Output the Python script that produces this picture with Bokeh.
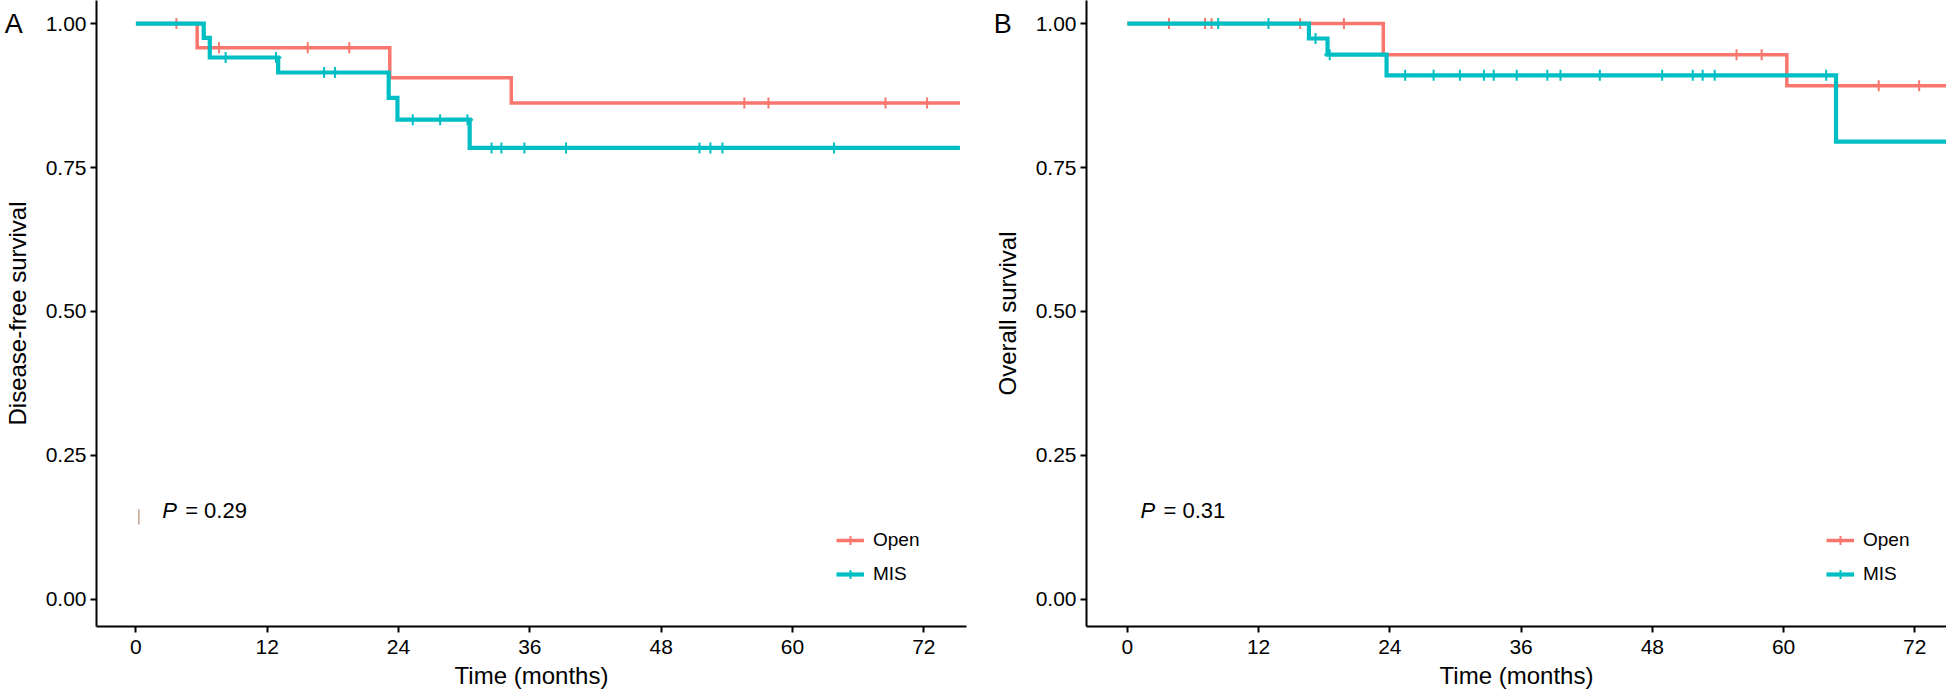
import numpy as np
from bokeh.plotting import figure
from bokeh.layouts import row
from bokeh.models import Range1d, FixedTicker, NumeralTickFormatter, Legend, LegendItem, Label
from bokeh.embed import file_html
from bokeh.resources import INLINE

FONT = "Liberation Sans"
RED = "#F8766D"
TEAL = "#00BFC4"

# ---------------- data ----------------
x_ticks = [0, 12, 24, 36, 48, 60, 72]
y_ticks = [0.0, 0.25, 0.5, 0.75, 1.0]
groups = ["Open", "MIS"]

# Panel A: disease-free survival
dfs_open_time = [0, 5.6, 23.2, 34.3, 75.3]
dfs_open_surv = [1.0, 0.958, 0.906, 0.862, 0.862]
dfs_open_censor = [3.7, 7.6, 15.7, 19.5, 55.6, 57.8, 68.5, 72.3]
dfs_mis_time = [0, 6.2, 6.75, 13.0, 23.1, 23.9, 30.5, 75.3]
dfs_mis_surv = [1.0, 0.975, 0.941, 0.915, 0.871, 0.833, 0.784, 0.784]
dfs_mis_censor = [8.2, 12.8, 17.2, 18.2, 25.3, 27.8, 30.3, 32.5, 33.4, 35.5,
                  39.3, 51.5, 52.5, 53.6, 63.8]
dfs_p_text = "= 0.29"

# Panel B: overall survival
os_open_time = [0, 23.4, 60.3, 75.5]
os_open_surv = [1.0, 0.946, 0.892, 0.892]
os_open_censor = [3.8, 7.1, 7.7, 15.8, 19.8, 55.7, 58.0, 68.7, 72.4]
os_mis_time = [0, 16.6, 18.3, 23.7, 64.8, 75.5]
os_mis_surv = [1.0, 0.974, 0.946, 0.910, 0.795, 0.795]
os_mis_censor = [8.3, 12.9, 17.2, 18.5, 25.4, 28.0, 30.4, 32.6, 33.5, 35.6,
                 38.4, 39.6, 43.2, 48.9, 51.7, 52.6, 53.7, 63.9]
os_p_text = "= 0.31"

# small stray mark seen in panel A near the p-value
artifact_x = [0.27]
artifact_y0 = [0.130]
artifact_y1 = [0.156]


def surv_at(times, survs, pts):
    t = np.asarray(times)
    s = np.asarray(survs)
    idx = np.searchsorted(t, np.asarray(pts), side="right") - 1
    return list(s[idx])


def make_panel(series, ylabel, panel_letter, p_text, p_x, x_start, x_end,
               border_left, border_right, frame_width, letter_x):
    p = figure(frame_width=frame_width, frame_height=626,
               x_range=Range1d(x_start, x_end),
               y_range=Range1d(-0.047, 1.040),
               min_border_left=border_left, min_border_right=border_right,
               min_border_top=0, min_border_bottom=0,
               output_backend="svg", toolbar_location=None)
    p.grid.visible = False
    p.outline_line_color = None
    p.background_fill_color = "white"

    items = []
    for name, times, survs, cens, color, lw in series:
        r_line = p.step(x=times, y=survs, mode="after", line_color=color,
                        line_width=lw, line_join="miter")
        r_pts = p.scatter(x=cens, y=surv_at(times, survs, cens), marker="cross",
                          size=11, line_width=2, line_color=color)
        items.append(LegendItem(label=name, renderers=[r_line, r_pts]))

    legend = Legend(items=items, location=(740, 41), orientation="vertical",
                    background_fill_alpha=0, border_line_alpha=0,
                    label_text_font=FONT, label_text_font_size="19px",
                    label_text_color="black",
                    glyph_width=28, glyph_height=22, label_height=22,
                    label_standoff=9, spacing=12, padding=0, margin=0)
    p.add_layout(legend)

    p.xaxis.ticker = FixedTicker(ticks=x_ticks)
    p.yaxis.ticker = FixedTicker(ticks=y_ticks)
    p.yaxis.formatter = NumeralTickFormatter(format="0.00")
    p.xaxis.axis_label = "Time (months)"
    p.yaxis.axis_label = ylabel
    for ax in p.axis:
        ax.axis_line_width = 2
        ax.axis_line_color = "black"
        ax.major_tick_line_width = 2
        ax.major_tick_line_color = "black"
        ax.major_tick_out = 6
        ax.major_tick_in = 0
        ax.minor_tick_line_color = None
        ax.major_label_text_font = FONT
        ax.major_label_text_font_size = "21px"
        ax.major_label_text_color = "black"
        ax.axis_label_text_font = FONT
        ax.axis_label_text_font_size = "24px"
        ax.axis_label_text_font_style = "normal"
        ax.axis_label_text_color = "black"
    p.xaxis.major_label_standoff = 7
    p.xaxis.axis_label_standoff = 5
    p.yaxis.major_label_standoff = 4
    p.yaxis.axis_label_standoff = 12

    p.add_layout(Label(x=p_x, y=0.155, text="P", text_font=FONT,
                       text_font_style="italic", text_font_size="22px",
                       text_baseline="middle", text_align="left", text_color="black"))
    p.add_layout(Label(x=p_x, y=0.155, x_offset=23, text=p_text, text_font=FONT,
                       text_font_size="22px", text_baseline="middle",
                       text_align="left", text_color="black"))
    # panel letter: placed in a panel below the x axis (side panels are not
    # clipped to the frame), positioned with the figure's own data scales
    p.add_layout(Label(x=letter_x, y=0.999, x_units="data", y_units="data",
                       text=panel_letter, text_font=FONT, text_font_size="27px",
                       text_baseline="middle", text_align="center",
                       text_color="black"), "below")
    return p


pA = make_panel(
    [(groups[0], dfs_open_time, dfs_open_surv, dfs_open_censor, RED, 3.5),
     (groups[1], dfs_mis_time, dfs_mis_surv, dfs_mis_censor, TEAL, 4.2)],
    "Disease-free survival", "A", dfs_p_text, 2.4, -3.6, 75.9,
    border_left=94, border_right=8, frame_width=870, letter_x=-11.15)
pA.segment(x0=artifact_x, y0=artifact_y0, x1=artifact_x, y1=artifact_y1,
           line_color="#c4a090", line_width=1.5)

pB = make_panel(
    [(groups[0], os_open_time, os_open_surv, os_open_censor, RED, 3.5),
     (groups[1], os_mis_time, os_mis_surv, os_mis_censor, TEAL, 4.2)],
    "Overall survival", "B", os_p_text, 1.2, -3.74, 74.9,
    border_left=112, border_right=0, frame_width=860, letter_x=-11.4)

layout = row(pA, pB, spacing=0)
open("out.html", "w").write(file_html(layout, INLINE))
